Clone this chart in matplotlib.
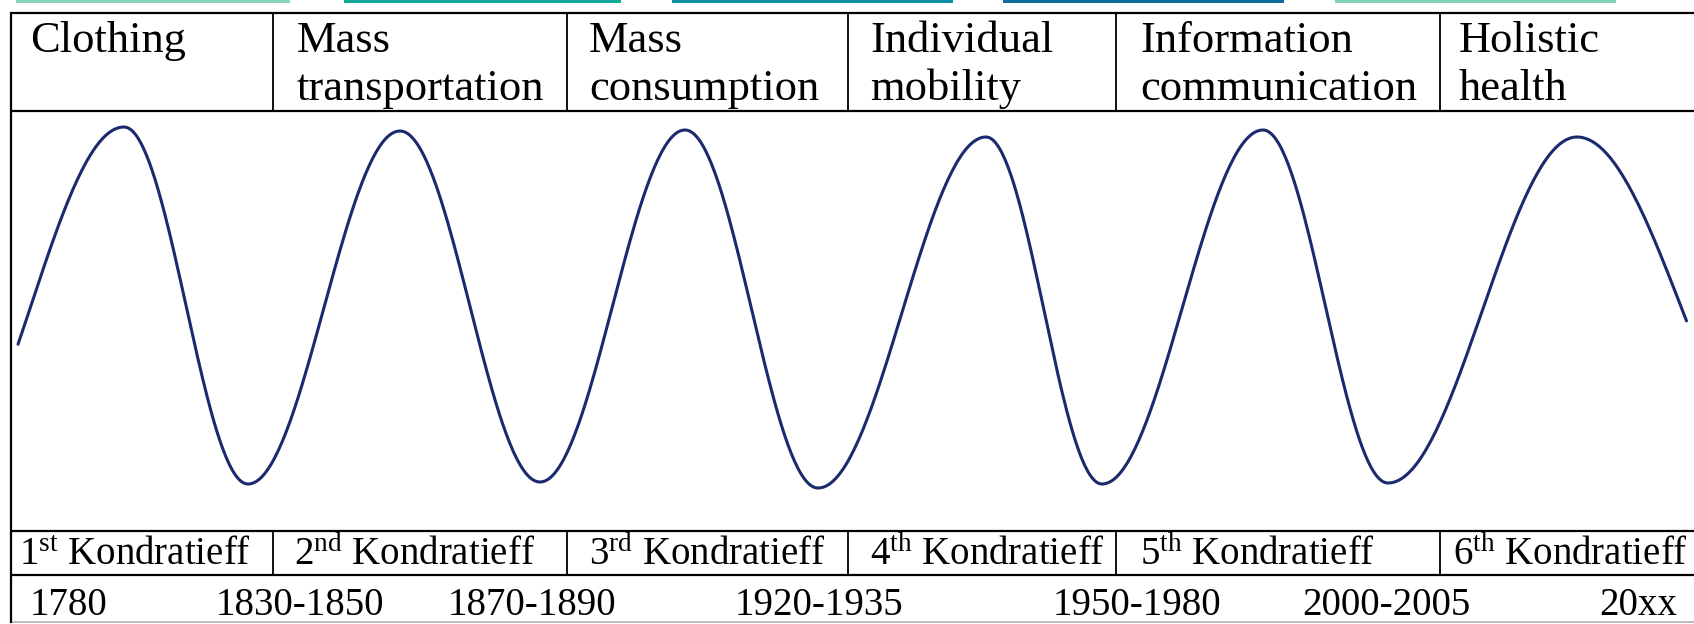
import matplotlib.pyplot as plt
import numpy as np

plt.rcParams['font.family'] = ['Liberation Serif', 'DejaVu Serif']
plt.rcParams['mathtext.fontset'] = 'custom'
plt.rcParams['mathtext.rm'] = 'Liberation Serif'
plt.rcParams['mathtext.it'] = 'Liberation Serif:italic'

# header cells (industry of each wave)
themes = ["Clothing", "Mass\ntransportation", "Mass\nconsumption",
          "Individual\nmobility", "Information\ncommunication", "Holistic\nhealth"]
waves = [r"1$^{\rm st}$ Kondratieff", r"2$^{\rm nd}$ Kondratieff", r"3$^{\rm rd}$ Kondratieff",
         r"4$^{\rm th}$ Kondratieff", r"5$^{\rm th}$ Kondratieff", r"6$^{\rm th}$ Kondratieff"]
years = ["1780", "1830-1850", "1870-1890", "1920-1935", "1950-1980", "2000-2005", "20xx"]

# turning points of the wave (picture units), first/last lie outside the drawn span
wave_x = [-62, 124, 248, 400, 540, 685, 818, 986, 1102, 1263, 1388, 1577, 1788]
wave_y = [484, 127, 484, 131, 482, 130, 488, 137, 484, 130, 483, 137, 484]
wave_start, wave_end = 16, 1688

W, H = 1694, 624
fig = plt.figure(figsize=(W / 100, H / 100), dpi=100)
ax = fig.add_axes([0, 0, 1, 1])
ax.set_xlim(0, W)
ax.set_ylim(H, 0)
ax.axis('off')

# coloured strips at the very top (page crop)
strip_x = [16, 344, 672, 1003, 1335]
strip_w = [274, 277, 281, 281, 281]
strip_c = ['#86d3b8', '#12a898', '#0c8f9e', '#0f6c98', '#7fd3b5']
ax.bar(strip_x, [3] * 5, width=strip_w, bottom=0, align='edge', color=strip_c)

# table frame
left = 11
col_x = [273, 567, 848, 1116, 1440]
y_top, y_head, y_k, y_year, y_bot = 13, 111, 531, 575, 622
lw = 1.6
for y in (y_top, y_head, y_k, y_year):
    ax.plot([left, W], [y, y], color='black', lw=lw, solid_capstyle='butt')
ax.plot([left, W], [y_bot, y_bot], color='#b0b0b0', lw=1.2)
ax.plot([left, left], [y_top, y_bot], color='black', lw=lw)
for x in col_x:
    ax.plot([x, x], [y_top, y_head], color='black', lw=1.3)
    ax.plot([x, x], [y_k, y_year], color='black', lw=1.3)

# header text
head_x = [30, 297, 589, 870, 1140, 1459]
for x, t in zip(head_x, themes):
    for i, line in enumerate(t.split('\n')):
        ax.text(x, 52 + 48 * i, line, fontsize=32, va='baseline', ha='left')

# Kondratieff row
k_x = [19, 294, 589, 870, 1140, 1453]
for x, t in zip(k_x, waves):
    ax.text(x, 565, t, fontsize=28, va='baseline', ha='left')

# year row
year_x = [30, 216, 448, 735, 1053, 1302, 1599]
for x, t in zip(year_x, years):
    ax.text(x, 615, t, fontsize=28, va='baseline', ha='left')

# the wave: half-cosine between consecutive turning points
xs, ys = [], []
for i in range(len(wave_x) - 1):
    t = np.linspace(0, 1, 80)
    xs.append(wave_x[i] + (wave_x[i + 1] - wave_x[i]) * t)
    ys.append(wave_y[i] + (wave_y[i + 1] - wave_y[i]) * (1 - np.cos(np.pi * t)) / 2)
xs = np.concatenate(xs)
ys = np.concatenate(ys)
keep = (xs >= wave_start) & (xs <= wave_end)
ax.plot(xs[keep], ys[keep], color='#1b2a6e', lw=2.2, solid_capstyle='round')

fig.savefig('out.png', dpi=100)
